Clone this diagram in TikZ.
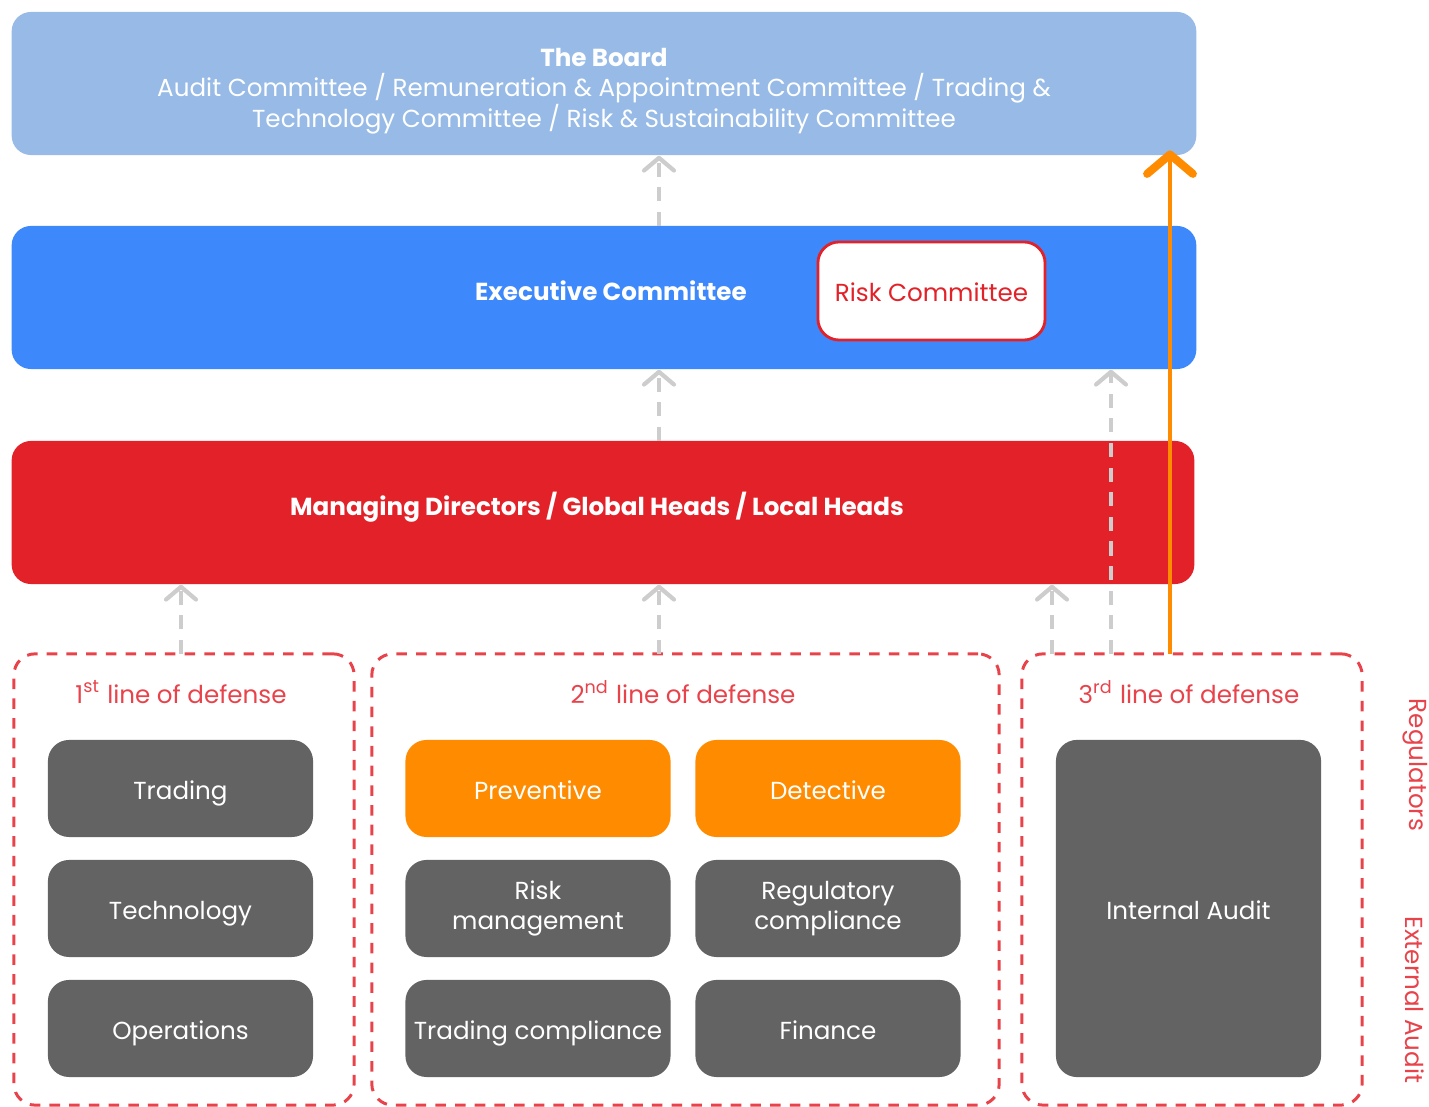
\documentclass[tikz,border=0pt]{standalone}
\usepackage{fontspec}
\setmainfont{Poppins}
\usetikzlibrary{arrows.meta}

\definecolor{boardblue}{HTML}{97BBE6}
\definecolor{execblue}{HTML}{3D88FA}
\definecolor{mgmtred}{HTML}{E32128}
\definecolor{unitgray}{HTML}{636363}
\definecolor{ctrlorange}{HTML}{FF8C00}
\definecolor{defred}{HTML}{E8434B}
\definecolor{linkgray}{HTML}{CDCDCD}

\begin{document}
\begin{tikzpicture}[x=0.01cm, y=-0.01cm, font=\fontsize{7}{8.6}\selectfont,
                    oneline/.style={text height=1.55ex, text depth=0.45ex}]
\useasboundingbox (0, 0) rectangle (1429, 1107);

% governance bars
\begin{scope}[every node/.style={rectangle, rounded corners=5.5pt,
              minimum width=11.84cm, minimum height=1.43cm}]
    \node (board) at (604, 83.5) [fill=boardblue] {};
    \node (exec) at (604, 297.5) [fill=execblue] {};
    \node (mgmt) at (603, 512.5) [fill=mgmtred, minimum width=11.82cm] {};
\end{scope}
\begin{scope}[every node/.style={text=white, align=center}]
    \node (boardtext) at (604, 91) {\textbf{The Board}\\Audit Committee / Remuneration \& Appointment Committee / Trading \&\\Technology Committee / Risk \& Sustainability Committee};
    \node (exectext) at (611, 290) [oneline] {\textbf{Executive Committee}};
    \node (mgmttext) at (597, 505) [oneline] {\textbf{Managing Directors / Global Heads / Local Heads}};
\end{scope}
\node (riskcom) at (931.5, 291) [rectangle, rounded corners=6pt, fill=white, draw=mgmtred, line width=0.8pt,
      minimum width=2.27cm, minimum height=0.98cm, text=mgmtred, oneline] {Risk Committee};

% lines of defense
\begin{scope}[every node/.style={rectangle, rounded corners=6pt, draw=defred, line width=0.85pt,
              dash pattern=on 3pt off 2.6pt, minimum height=4.51cm}]
    \node (line1) at (184, 879.5) [minimum width=3.40cm] {};
    \node (line2) at (685.5, 879.5) [minimum width=6.27cm] {};
    \node (line3) at (1192, 879.5) [minimum width=3.40cm] {};
\end{scope}
\begin{scope}[every node/.style={text=defred}]
    \node (l1text) at (181, 692) {1\textsuperscript{st} line of defense};
    \node (l2text) at (683, 692) {2\textsuperscript{nd} line of defense};
    \node (l3text) at (1189, 692) {3\textsuperscript{rd} line of defense};
    \node (regul) at (1415, 765) [rotate=-90] {Regulators};
    \node (extaudit) at (1415, 1000) [rotate=-90] {External Audit};
\end{scope}

% units
\begin{scope}[every node/.style={rectangle, rounded corners=6pt, fill=unitgray, text=white, align=center,
              minimum width=2.65cm, minimum height=0.97cm, inner xsep=1pt}]
    \node (trading) at (180.5, 788.5) [oneline] {Trading};
    \node (tech) at (180.5, 908.5) [oneline] {Technology};
    \node (ops) at (180.5, 1028.5) [oneline] {Operations};
    \node (prev) at (538, 788.5) [fill=ctrlorange, oneline] {Preventive};
    \node (detect) at (828, 788.5) [fill=ctrlorange, oneline] {Detective};
    \node (riskmgmt) at (538, 908.5) {Risk\\management};
    \node (regcomp) at (828, 908.5) {Regulatory\\compliance};
    \node (tradecomp) at (538, 1028.5) [oneline] {Trading compliance};
    \node (finance) at (828, 1028.5) [oneline] {Finance};
    \node (intaudit) at (1188.5, 908.5) [minimum height=3.37cm, oneline] {Internal Audit};
\end{scope}

% reporting lines
\coordinate (r1) at (181, 654);
\coordinate (r2) at (659, 654);
\coordinate (r3) at (1052, 654);
\coordinate (r4) at (1111, 654);
\coordinate (r5) at (659, 226);
\coordinate (r6) at (659, 441);
\coordinate (r7) at (1170, 654);
\begin{scope}[>={Straight Barb[length=3.6pt, width=8.5pt, line width=1.2pt, round]},
              link/.style={draw=linkgray, line width=0.9pt, dash pattern=on 4pt off 3pt}]
    \draw [->, link] (r1) -- (r1 |- mgmt.south);
    \draw [->, link] (r2) -- (r2 |- mgmt.south);
    \draw [->, link] (r3) -- (r3 |- mgmt.south);
    \draw [->, link] (r4) -- (r4 |- exec.south);
    \draw [->, link] (r6) -- (r6 |- exec.south);
    \draw [->, link] (r5) -- (r5 |- board.south);
\end{scope}
\draw [->, >={Straight Barb[length=5.5pt, width=13pt, line width=2.3pt, round]}, draw=ctrlorange, line width=1.15pt]
    (r7) -- ([yshift=1.5pt]r7 |- board.south);
\end{tikzpicture}
\end{document}
